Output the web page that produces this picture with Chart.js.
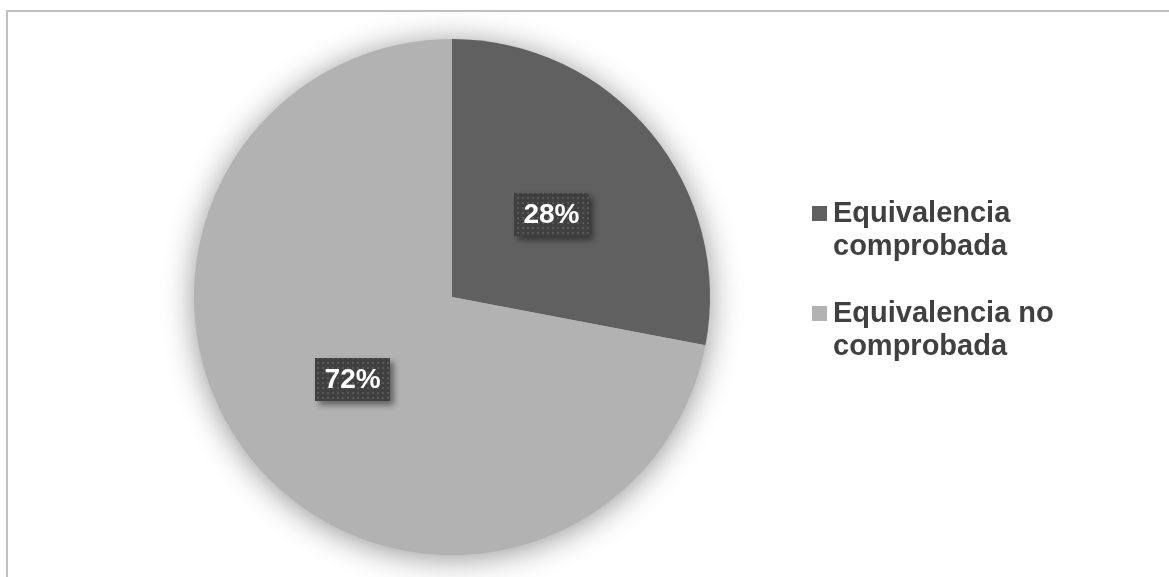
<!DOCTYPE html>
<html>
<head>
<meta charset="utf-8">
<script src="https://cdn.jsdelivr.net/npm/chart.js@4"></script>
<style>
  html, body { margin: 0; padding: 0; background: #fff; }
  #wrap { position: relative; width: 1169px; height: 577px; }
</style>
</head>
<body>
<div id="wrap"><canvas id="pie" width="1169" height="577"></canvas></div>
<script>
// Series data
const labels = [['Equivalencia', 'comprobada'], ['Equivalencia no', 'comprobada']];
const values = [28, 72];
const colors = ['#606060', '#b2b2b2'];

const FONT = 'bold 28px "Liberation Sans", Arial, sans-serif';
const LEGEND_FONT = 'bold 29px "Liberation Sans", Arial, sans-serif';

// Frame lines on the left and top edges
const framePlugin = {
    id: 'frame',
    beforeDraw(chart) {
        const ctx = chart.ctx;
        ctx.save();
        ctx.fillStyle = '#fff';
        ctx.fillRect(0, 0, chart.width, chart.height);
        ctx.strokeStyle = '#c0c0c0';
        ctx.lineWidth = 2;
        ctx.beginPath();
        ctx.moveTo(7, chart.height);
        ctx.lineTo(7, 11);
        ctx.lineTo(chart.width, 11);
        ctx.stroke();
        ctx.restore();
    }
};

// Soft shadow under the whole pie
const glowPlugin = {
    id: 'glow',
    beforeDatasetsDraw(chart) {
        const arc = chart.getDatasetMeta(0).data[0];
        if (!arc) return;
        const ctx = chart.ctx;
        ctx.save();
        ctx.shadowColor = 'rgba(0,0,0,0.45)';
        ctx.shadowBlur = 32;
        ctx.shadowOffsetY = 3;
        ctx.fillStyle = '#b2b2b2';
        ctx.beginPath();
        ctx.arc(arc.x, arc.y, arc.outerRadius - 1, 0, Math.PI * 2);
        ctx.fill();
        ctx.restore();
    }
};

// Dotted dark pattern for the value boxes
function makeDots(ctx) {
    const c = document.createElement('canvas');
    c.width = 5; c.height = 5;
    const g = c.getContext('2d');
    g.fillStyle = '#404040';
    g.fillRect(0, 0, 5, 5);
    g.fillStyle = '#585858';
    g.fillRect(2, 2, 2, 2);
    return ctx.createPattern(c, 'repeat');
}

// Percentage labels inside the slices
const valueLabelPlugin = {
    id: 'valueLabels',
    afterDatasetsDraw(chart) {
        const ctx = chart.ctx;
        const meta = chart.getDatasetMeta(0);
        const total = values.reduce((a, b) => a + b, 0);
        const pattern = makeDots(ctx);
        meta.data.forEach((arc, i) => {
            const p = arc.tooltipPosition();
            const text = Math.round(values[i] / total * 100) + '%';
            const w = 75, h = 43;
            ctx.save();
            ctx.shadowColor = 'rgba(0,0,0,0.45)';
            ctx.shadowBlur = 6;
            ctx.shadowOffsetX = 4;
            ctx.shadowOffsetY = 4;
            ctx.fillStyle = pattern;
            ctx.fillRect(Math.round(p.x - w / 2), Math.round(p.y - h / 2), w, h);
            ctx.restore();
            ctx.save();
            ctx.font = FONT;
            ctx.fillStyle = '#ffffff';
            ctx.textAlign = 'center';
            ctx.textBaseline = 'middle';
            ctx.fillText(text, p.x, p.y + 1);
            ctx.restore();
        });
    }
};

// Legend with wrapped labels on the right
const legendPlugin = {
    id: 'sideLegend',
    afterDraw(chart) {
        const ctx = chart.ctx;
        const x0 = 812, y0 = 222, lineH = 33, gap = 100;
        ctx.save();
        ctx.font = LEGEND_FONT;
        ctx.textBaseline = 'alphabetic';
        labels.forEach((lines, i) => {
            const base = y0 + i * gap;
            ctx.fillStyle = colors[i];
            ctx.fillRect(x0, base - 16, 15, 15);
            ctx.fillStyle = '#404040';
            lines.forEach((line, j) => {
                ctx.fillText(line, x0 + 21, base + j * lineH);
            });
        });
        ctx.restore();
    }
};

new Chart(document.getElementById('pie'), {
    type: 'pie',
    data: {
        labels: labels.map(l => l.join(' ')),
        datasets: [{
            data: values,
            backgroundColor: colors,
            borderWidth: 0
        }]
    },
    options: {
        responsive: false,
        animation: false,
        layout: { padding: { top: 39, bottom: 22, left: 194, right: 459 } },
        plugins: {
            legend: { display: false },
            tooltip: { enabled: false }
        }
    },
    plugins: [framePlugin, glowPlugin, valueLabelPlugin, legendPlugin]
});
</script>
</body>
</html>
